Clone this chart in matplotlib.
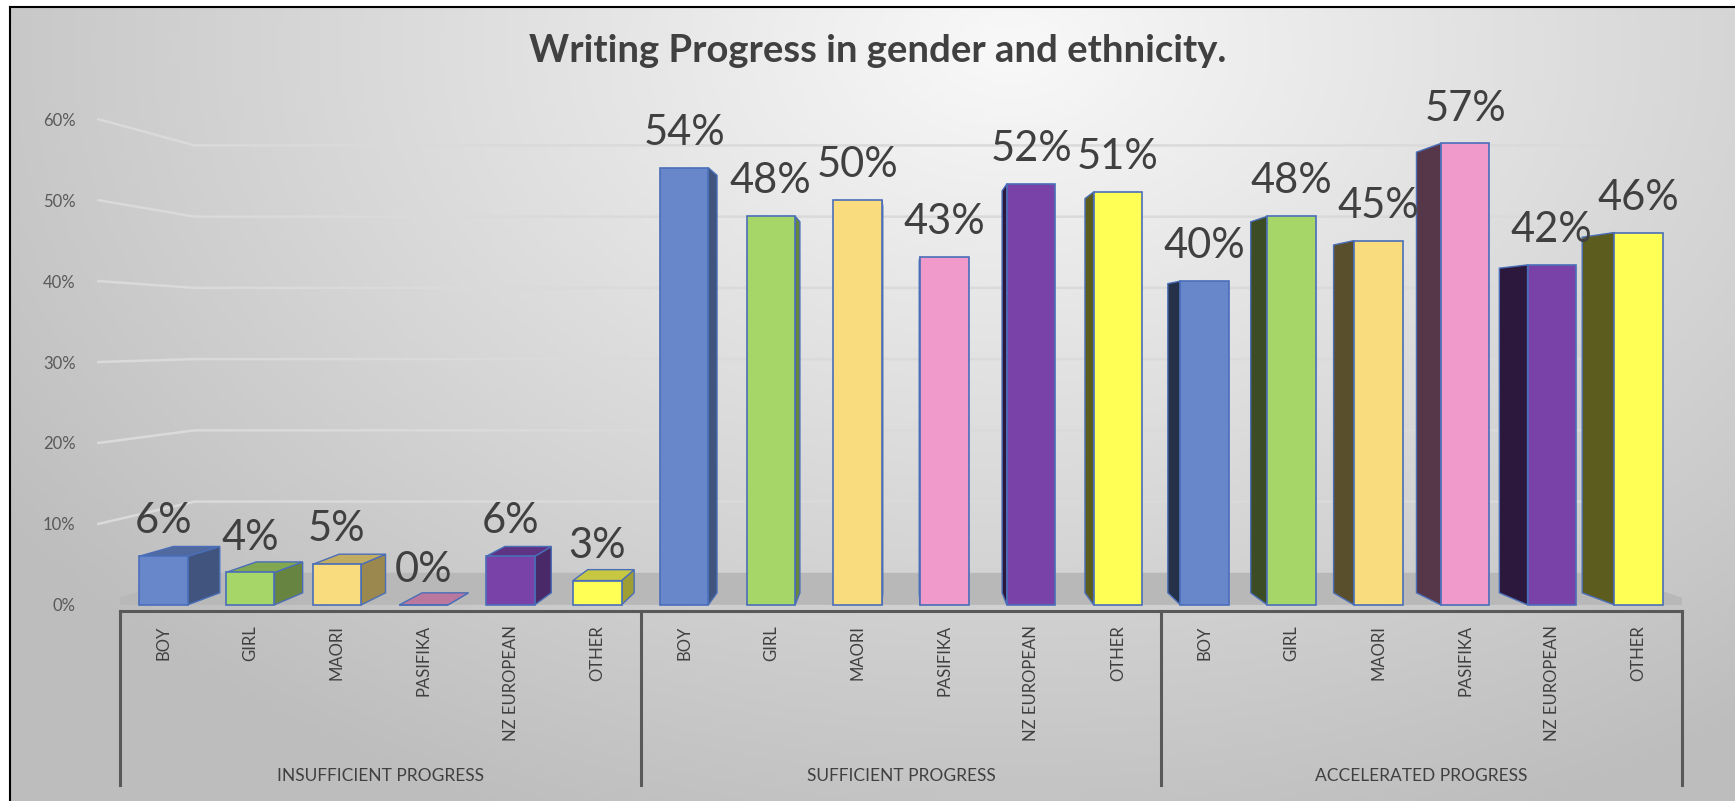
import numpy as np
import matplotlib
matplotlib.use('Agg')
import matplotlib.pyplot as plt
from matplotlib.patches import Polygon
from matplotlib.lines import Line2D
from matplotlib.colors import to_rgb

plt.rcParams['font.family'] = ['Lato', 'DejaVu Sans']

# data (percent)
groups = ['INSUFFICIENT PROGRESS', 'SUFFICIENT PROGRESS', 'ACCELERATED PROGRESS']
categories = ['BOY', 'GIRL', 'MAORI', 'PASIFIKA', 'NZ EUROPEAN', 'OTHER']
insufficient = [6, 4, 5, 0, 6, 3]
sufficient = [54, 48, 50, 43, 52, 51]
accelerated = [40, 48, 45, 57, 42, 46]
cat_colors = ['#6787CA', '#A6D667', '#F9DC7E', '#F09ACB', '#7842A8', '#FFFF55']
yticks = [0, 10, 20, 30, 40, 50, 60]

values = insufficient + sufficient + accelerated
labels = categories * len(groups)
colors = cat_colors * len(groups)
n = len(values)
x = np.arange(n)

W, H = 1735, 801
fig = plt.figure(figsize=(W / 100, H / 100), dpi=100)
fig.patch.set_facecolor('white')

# background gradient inside the frame
bg = fig.add_axes([10 / W, 0, 1 - 10 / W, 1 - 7 / H], zorder=-10)
gx, gy = np.meshgrid(np.linspace(0, 1, 400), np.linspace(0, 1, 200))
r = np.sqrt(((gx - 0.58) / 0.7) ** 2 + ((gy - 0.95) / 1.05) ** 2)
shade = 0.975 - 0.23 * np.clip(r, 0, 1)
bg.imshow(np.dstack([shade] * 3), origin='lower', aspect='auto', extent=[0, 1, 0, 1])
bg.axis('off')
fig.add_artist(Line2D([10 / W, 10 / W], [0, 1 - 7 / H], color='black', lw=1.5))
fig.add_artist(Line2D([10 / W, 1], [1 - 7 / H, 1 - 7 / H], color='black', lw=1.5))

ax = fig.add_axes([120 / W, (H - 617) / H, 1562 / W, 514 / H])
ax.set_facecolor('none')
ax.set_xlim(-0.5, n - 0.5)
ax.set_ylim(-1.5, 62)
for s in ax.spines.values():
    s.set_visible(False)

# perspective helpers
xv, yv = (n - 1) / 2, 33
sb, sw = 0.955, 0.88   # bar depth, wall depth


def back(px, py, s):
    return (xv + (px - xv) * s, yv + (py - yv) * s)


def darker(c, f):
    return tuple(np.array(to_rgb(c)) * f)


# floor and back-wall gridlines
xl, xr = -0.75, n - 0.25
floor = [(xl, 0), (xr, 0), back(xr, 0, sw), back(xl, 0, sw)]
ax.add_patch(Polygon(floor, closed=True, fc='#B8B8B8', ec='none', zorder=1))
for t in yticks[1:]:
    bl = back(xl, t, sw)
    br = back(xr, t, sw)
    ax.plot([xl, bl[0], br[0]], [t, bl[1], br[1]], color='#DADADA', lw=1.8,
            zorder=0.5, clip_on=False)

# 3D-looking bars
w = 0.56
edge = '#4A6EB8'
for i, v in enumerate(values):
    x0, x1 = i - w / 2, i + w / 2
    if i < xv:
        side = [(x1, 0), (x1, v), back(x1, v, sb), back(x1, 0, sb)]
        sc = darker(colors[i], 0.62)
    else:
        side = [(x0, 0), (x0, v), back(x0, v, sb), back(x0, 0, sb)]
        sc = darker(colors[i], 0.36)
    ax.add_patch(Polygon(side, closed=True, fc=sc, ec=edge, lw=1.0, zorder=2))
    if v < yv:
        top = [(x0, v), (x1, v), back(x1, v, sb), back(x0, v, sb)]
        ax.add_patch(Polygon(top, closed=True, fc=darker(colors[i], 0.78),
                             ec=edge, lw=1.0, zorder=2))

ax.bar(x, values, width=w, color=colors, edgecolor=edge, linewidth=1.2, zorder=3)

for i, v in enumerate(values):
    ax.annotate(f'{v}%', (i, v), xytext=(0, 16.5), textcoords='offset points',
                ha='center', va='baseline', fontsize=30, color='#404040', zorder=5)

# axes and labels
ax.set_yticks(yticks)
ax.set_yticklabels([f'{t}%' for t in yticks])
ax.tick_params(axis='y', length=0, pad=32, labelsize=12, labelcolor='#595959')
ax.set_xticks(x)
ax.set_xticklabels(labels, rotation=90, va='top')
ax.tick_params(axis='x', length=0, pad=6, labelsize=12, labelcolor='#404040')

ax.plot([-0.5, n - 0.5], [-0.7, -0.7], color='#595959', lw=2.2, clip_on=False, zorder=4)
ng = len(categories)
for g in range(len(groups) + 1):
    xs = g * ng - 0.5
    ax.plot([xs, xs], [-0.7, -22.3], color='#595959', lw=2.2, clip_on=False)
for g, name in enumerate(groups):
    ax.text(g * ng + (ng - 1) / 2, -21.2, name, ha='center', va='center',
            fontsize=12.5, color='#404040', clip_on=False)

fig.text(0.506, 1 - 62 / H, 'Writing Progress in gender and ethnicity.',
         ha='center', va='baseline', fontsize=27.5, fontweight='bold', color='#404040')

fig.savefig('out.png', dpi=100)
